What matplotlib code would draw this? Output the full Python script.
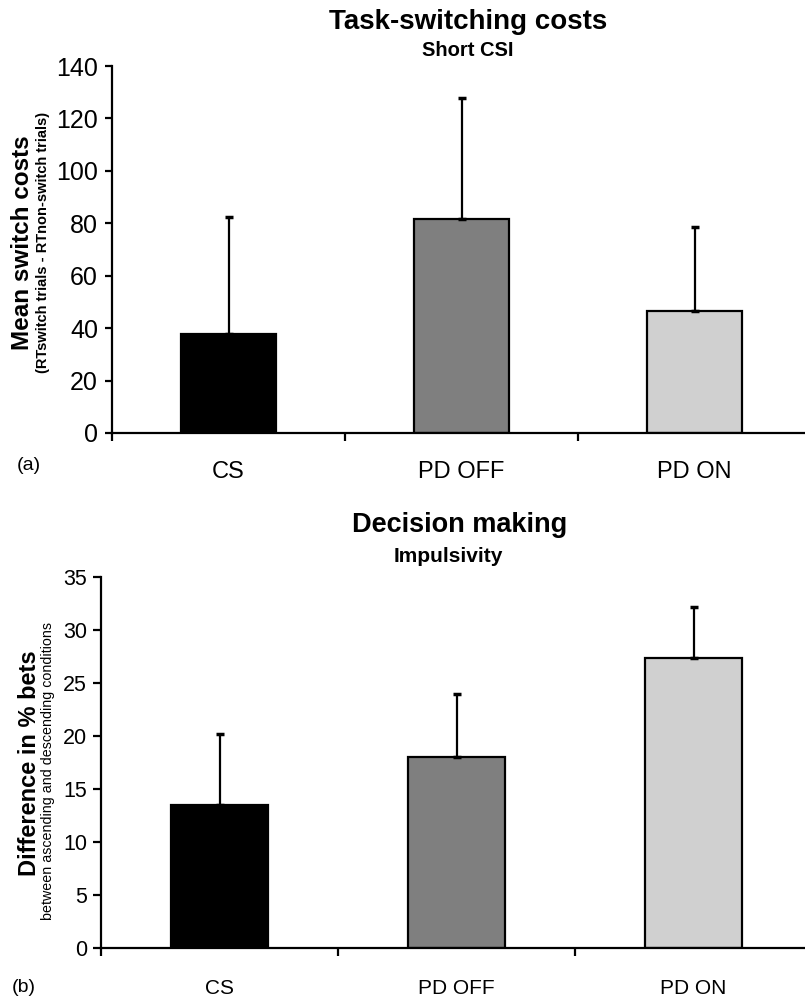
import matplotlib
matplotlib.use("Agg")
import matplotlib.pyplot as plt
import numpy as np

plt.rcParams['font.family'] = ['Liberation Sans', 'DejaVu Sans']

categories = ["CS", "PD OFF", "PD ON"]
bar_colors = ["#000000", "#7f7f7f", "#d0d0d0"]

# Panel (a): task-switching costs
switch_means = [37.8, 81.7, 46.6]
switch_err = [44.6, 46.2, 32.0]
switch_ticks = [0, 20, 40, 60, 80, 100, 120, 140]

# Panel (b): decision making
bets_means = [13.5, 18.0, 27.4]
bets_err = [6.7, 6.0, 4.8]
bets_ticks = [0, 5, 10, 15, 20, 25, 30, 35]

W, H = 805, 1000
fig = plt.figure(figsize=(W / 100, H / 100), dpi=100)


def panel(rect, means, errs, yticks, tick_fs, cat_fs, cat_pad, ypad, ylen):
    ax = fig.add_axes(rect)
    x = np.arange(len(categories))
    ax.bar(x, means, width=0.41, color=bar_colors, edgecolor="black",
           linewidth=1.6, zorder=2)
    ax.errorbar(x, means, yerr=[np.zeros(len(errs)), errs], fmt="none",
                ecolor="black", elinewidth=1.6, capsize=3, capthick=2.5,
                zorder=3)
    ax.set_xlim(-0.5, 2.5)
    ax.set_ylim(yticks[0], yticks[-1])
    ax.set_yticks(yticks)
    ax.set_xticks([-0.5, 0.5, 1.5, 2.5])
    ax.set_xticklabels([])
    ax.set_xticks(x, minor=True)
    ax.set_xticklabels(categories, minor=True, fontsize=cat_fs)
    ax.tick_params(axis="x", which="minor", length=0, pad=cat_pad)
    ax.tick_params(axis="x", which="major", direction="out", length=6,
                   width=1.6)
    ax.tick_params(axis="y", direction="out", length=ylen, width=1.6,
                   labelsize=tick_fs, pad=ypad)
    for s in ["top", "right"]:
        ax.spines[s].set_visible(False)
    for s in ["left", "bottom"]:
        ax.spines[s].set_linewidth(1.6)
    ax.spines["bottom"].set_zorder(4)
    return ax


# top panel geometry (pixels): y axis x=112, y0=433, ytop=66, xlim end 811
ax1 = panel([112 / W, 1 - 433 / H, (811 - 112) / W, (433 - 66) / H],
            switch_means, switch_err, switch_ticks, 18, 17, 20, 5, 5)
# bottom panel: y axis x=101, y0=948, ytop=577, xlim end 812
ax2 = panel([101 / W, 1 - 948 / H, (812 - 101) / W, (948 - 577) / H],
            bets_means, bets_err, bets_ticks, 15.5, 15, 22, 4, 6)

# titles
fig.text(468 / W, 1 - 22 / H, "Task-switching costs", ha="center",
         va="center", fontsize=20, fontweight="bold")
fig.text(468 / W, 1 - 50 / H, "Short CSI", ha="center", va="center",
         fontsize=14.5, fontweight="bold")
fig.text(460 / W, 1 - 525 / H, "Decision making", ha="center",
         va="center", fontsize=19.5, fontweight="bold")
fig.text(448 / W, 1 - 557 / H, "Impulsivity", ha="center", va="center",
         fontsize=15, fontweight="bold")

# y labels
fig.text(23 / W, 1 - 243 / H, "Mean switch costs", rotation=90,
         ha="center", va="center", fontsize=17.5, fontweight="bold")
fig.text(43 / W, 1 - 242 / H, "(RTswitch trials - RTnon-switch trials)",
         rotation=90, ha="center", va="center", fontsize=10.5,
         fontweight="bold")
fig.text(30 / W, 1 - 763 / H, "Difference in % bets", rotation=90,
         ha="center", va="center", fontsize=17, fontweight="bold")
fig.text(48 / W, 1 - 771 / H, "between ascending and descending conditions",
         rotation=90, ha="center", va="center", fontsize=10.3)

# panel letters
fig.text(29 / W, 1 - 466 / H, "(a)", ha="center", va="center", fontsize=14)
fig.text(24 / W, 1 - 987 / H, "(b)", ha="center", va="center", fontsize=14)

fig.savefig("out.png", dpi=100)
